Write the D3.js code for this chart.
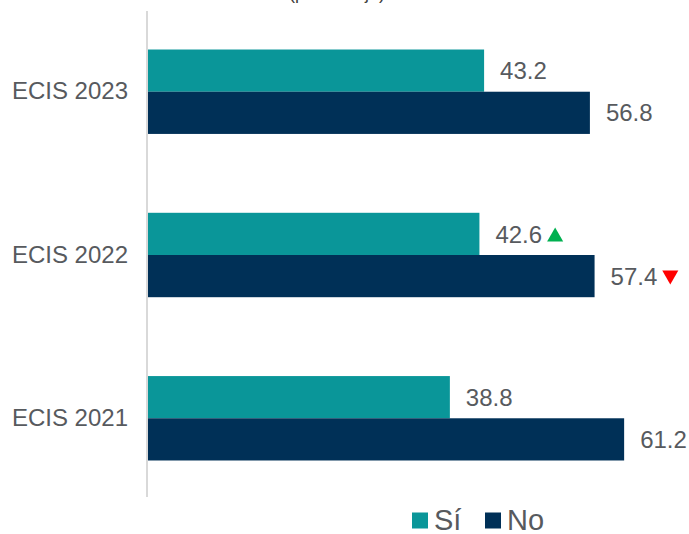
<!DOCTYPE html>
<html>
<head>
<meta charset="utf-8">
<script src="https://cdn.jsdelivr.net/npm/d3@7"></script>
<style>
  body { margin: 0; background: #fff; }
  text { font-family: "Liberation Sans", Arial, sans-serif; }
</style>
</head>
<body>
<svg class="chart" width="689" height="534"></svg>
<script>
const categories = ['ECIS 2023', 'ECIS 2022', 'ECIS 2021'];
const seriesNames = ['Sí', 'No'];
const siValues = [43.2, 42.6, 38.8];
const noValues = [56.8, 57.4, 61.2];
// change markers next to the 2022 values
const siMarks = ['', 'up', ''];
const noMarks = ['', 'down', ''];

const colors = { 'Sí': '#0a9699', 'No': '#003057' };
const markColors = { up: '#00b050', down: '#ff0000' };
const textColor = '#575a5e';

const svg = d3.select('svg.chart');
const margin = { top: 10, right: 40, bottom: 34, left: 148 };
const width = +svg.attr('width');
const height = +svg.attr('height');
const innerHeight = height - margin.top - margin.bottom;

const rows = categories.map((c, i) => ({
    cat: c,
    bars: [
        { key: 'Sí', value: siValues[i], mark: siMarks[i] },
        { key: 'No', value: noValues[i], mark: noMarks[i] }
    ]
}));

const yScale = d3.scaleBand()
    .domain(categories)
    .range([0, innerHeight])
    .paddingInner(0.483)
    .paddingOuter(0.242);

const y2 = d3.scaleBand()
    .domain(seriesNames)
    .range([0, yScale.bandwidth()]);

const xScale = d3.scaleLinear()
    .domain([0, 100])
    .range([0, 778]);

// title, cut off at the top of the frame
svg.append('text')
    .attr('x', 337)
    .attr('y', -1)
    .attr('text-anchor', 'middle')
    .attr('font-size', 18)
    .attr('fill', '#404040')
    .text('(porcentaje)');

const g = svg.append('g')
    .attr('transform', `translate(${margin.left}, ${margin.top})`);

const groups = g.selectAll('g.cat').data(rows)
    .enter().append('g')
        .attr('class', 'cat')
        .attr('transform', d => `translate(0, ${yScale(d.cat)})`);

groups.selectAll('rect').data(d => d.bars)
    .enter().append('rect')
        .attr('x', 0)
        .attr('y', d => y2(d.key))
        .attr('width', d => xScale(d.value))
        .attr('height', y2.bandwidth())
        .attr('fill', d => colors[d.key]);

const labels = groups.selectAll('text.val').data(d => d.bars)
    .enter().append('text')
        .attr('class', 'val')
        .attr('x', d => xScale(d.value) + 16)
        .attr('y', d => y2(d.key) + y2.bandwidth() / 2)
        .attr('dy', '0.36em')
        .attr('font-size', 24)
        .attr('fill', textColor)
        .text(d => d.value.toFixed(1));

const tri = d3.symbol().type(d3.symbolTriangle).size(112);
labels.each(function(d) {
    if (!d.mark) return;
    const len = this.getComputedTextLength();
    const cx = xScale(d.value) + 16 + len + 13;
    const cy = y2(d.key) + y2.bandwidth() / 2;
    d3.select(this.parentNode).append('path')
        .attr('d', tri)
        .attr('fill', markColors[d.mark])
        .attr('transform', d.mark === 'up'
            ? `translate(${cx}, ${cy + 3})`
            : `translate(${cx}, ${cy - 1}) rotate(180)`);
});

// category axis
const yAxis = g.append('g').call(d3.axisLeft(yScale).tickSize(0).tickPadding(20));
yAxis.select('.domain')
    .attr('d', `M0,1V${innerHeight - 3}`)
    .attr('stroke', '#d9d9d9')
    .attr('stroke-width', 2)
    .attr('transform', 'translate(-1,0)');
yAxis.selectAll('.tick text')
    .attr('font-family', '"Liberation Sans", Arial, sans-serif')
    .attr('font-size', 24)
    .attr('fill', textColor);

// legend
const legend = svg.append('g').attr('transform', 'translate(412, 520)');
const items = legend.selectAll('g').data(seriesNames)
    .enter().append('g')
        .attr('transform', (d, i) => `translate(${i * 73}, 0)`);
items.append('rect')
    .attr('x', 0).attr('y', -7.5)
    .attr('width', 16).attr('height', 16)
    .attr('fill', d => colors[d]);
items.append('text')
    .attr('x', 22)
    .attr('y', 10)
    .attr('font-size', 29)
    .attr('fill', textColor)
    .text(d => d);
</script>
</body>
</html>
